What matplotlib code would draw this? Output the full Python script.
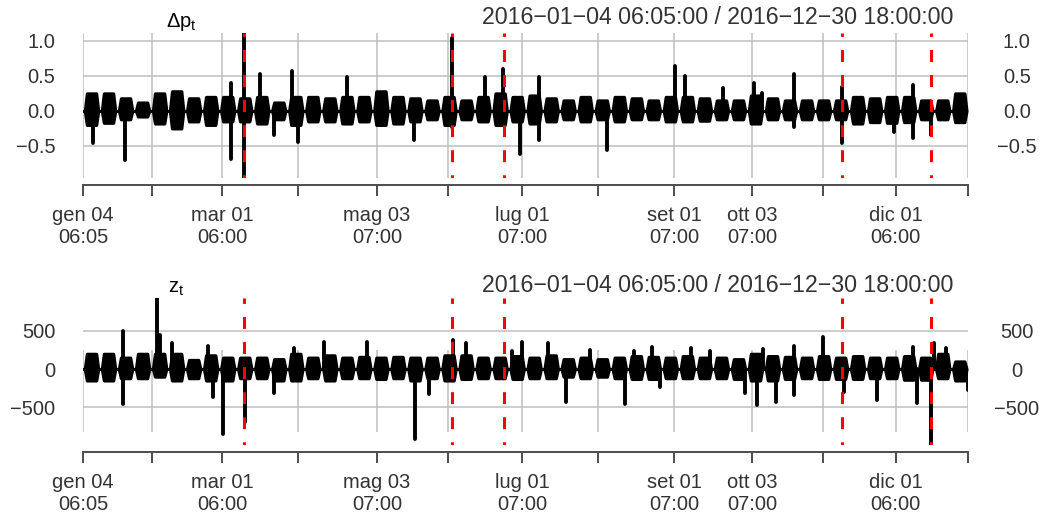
import numpy as np
import matplotlib.pyplot as plt

plt.rcParams['font.family'] = ['Liberation Sans', 'DejaVu Sans']
plt.rcParams['mathtext.fontset'] = 'custom'
plt.rcParams['mathtext.rm'] = 'Liberation Sans'
plt.rcParams['mathtext.it'] = 'Liberation Sans:italic'

# x axis is the observation index (trading days), like xts does
n_days = 256
tick_days = [0, 20, 40.3, 62.3, 85, 105.5, 127, 149, 171, 193.4, 214, 235, 256]
tick_labels = ['gen 04\n06:05', '', 'mar 01\n06:00', '', 'mag 03\n07:00', '',
               'lug 01\n07:00', '', 'set 01\n07:00', 'ott 03\n07:00', '',
               'dic 01\n06:00', '']
event_days = [46.7, 106.8, 121.8, 219.6, 245.2]
period = '2016\u221201\u221204 06:05:00 / 2016\u221212\u221230 18:00:00'

# weekly envelope of the price changes
dp_week_hi = [0.25, 0.25, 0.18, 0.12, 0.25, 0.28, 0.18, 0.20, 0.20, 0.18, 0.20, 0.12, 0.20,
              0.20, 0.18, 0.20, 0.20, 0.28, 0.20, 0.18, 0.15, 0.20, 0.15, 0.20, 0.25, 0.20,
              0.22, 0.18, 0.15, 0.20, 0.15, 0.20, 0.18, 0.15, 0.20, 0.20, 0.18, 0.15, 0.15,
              0.22, 0.18, 0.15, 0.15, 0.15, 0.15, 0.20, 0.18, 0.20, 0.20, 0.15, 0.15, 0.25]
dp_week_lo = [-0.20, -0.17, -0.12, -0.08, -0.18, -0.25, -0.15, -0.20, -0.15, -0.15, -0.18, -0.12, -0.20,
              -0.15, -0.15, -0.18, -0.15, -0.20, -0.18, -0.15, -0.12, -0.20, -0.12, -0.15, -0.20, -0.15,
              -0.18, -0.15, -0.12, -0.15, -0.12, -0.15, -0.12, -0.12, -0.15, -0.15, -0.14, -0.12, -0.12,
              -0.18, -0.12, -0.12, -0.12, -0.12, -0.12, -0.18, -0.16, -0.17, -0.16, -0.12, -0.12, -0.16]
# isolated jumps
dp_spike_day = [2.9, 12.1, 42.7, 46.6, 51.2, 55.3, 60.5, 62.2, 76.4, 95.7, 106.7, 116.3, 121.5,
                126.4, 131.9, 151.6, 171.3, 174.2, 185.2, 194.1, 196.4, 205.7, 219.6, 234.6, 240.1, 245.3]
dp_spike_hi = [0, 0, 0.40, 1.11, 0.52, 0, 0.57, 0, 0.48, 0, 1.04, 0.48, 0.60,
               0, 0.48, 0, 0.64, 0.50, 0.32, 0.40, 0.25, 0.52, 0.34, 0, 0.37, 0]
dp_spike_lo = [-0.46, -0.70, -0.68, -0.956, 0, -0.35, 0, -0.45, 0, -0.42, -0.23, 0, 0,
               -0.61, -0.42, -0.56, 0, 0, 0, 0, 0, -0.23, -0.46, -0.30, -0.39, -0.34]

# weekly envelope of z
z_week_hi = [200, 200, 150, 200, 200, 200, 120, 180, 150, 150, 150, 130, 200,
             150, 180, 150, 160, 150, 160, 150, 150, 180, 180, 150, 150, 170,
             150, 180, 130, 150, 130, 150, 170, 160, 150, 170, 150, 150, 130,
             200, 170, 160, 150, 170, 150, 170, 150, 150, 170, 150, 200, 100]
z_week_lo = [-150, -150, -120, -120, -100, -150, -120, -150, -150, -120, -120, -150, -150,
             -120, -150, -120, -120, -130, -120, -150, -120, -150, -130, -120, -120, -130,
             -120, -120, -100, -120, -100, -120, -130, -130, -120, -120, -120, -120, -130,
             -150, -150, -130, -120, -130, -130, -130, -120, -120, -140, -140, -120, -150]
z_spike_day = [11.6, 21.4, 22.3, 25.7, 36.2, 37.6, 40.4, 46.9, 55.3, 61.0, 69.7, 82.2, 96.0, 100.1,
               106.9, 110.7, 124.0, 126.9, 134.5, 139.7, 146.6, 156.8, 159.4, 164.5, 166.9, 175.8,
               181.4, 191.5, 195.0, 196.6, 200.5, 205.7, 214.1, 220.1, 229.7, 240.1, 241.2, 245.3,
               246.2, 249.6, 255.8]
z_spike_hi = [491, 929, 448, 343, 303, 0, 0, 0, 0, 280, 350, 360, 0, 0,
              382, 347, 242, 360, 347, 0, 252, 0, 238, 282, 0, 274,
              242, 0, 0, 260, 0, 295, 418, 0, 0, 290, 0, 0,
              347, 280, 0]
z_spike_lo = [-456, 0, 0, 0, 0, -360, -850, -690, -310, 0, 0, 0, -918, -325,
              0, 0, 0, 0, 0, -426, 0, -456, 0, 0, -230, 0,
              0, -316, -470, 0, -426, -338, 0, -295, -404, 0, -443, -993,
              0, 0, -272]

TXT = '#333333'
GRID = '#BEBEBE'
AX = '#4D4D4D'


def draw_panel(ax, week_hi, week_lo, sp_day, sp_hi, sp_lo, yticks, vgrid=None):
    ymin = min(min(week_lo), min(sp_lo))
    ymax = max(max(week_hi), max(sp_hi))
    ax.set_xlim(0, n_days)
    ax.set_ylim(ymin, ymax)

    # grid
    ax.hlines(yticks, 0, n_days, color=GRID, lw=1.1, zorder=1)
    g0, g1 = vgrid if vgrid else (ymin, ymax)
    ax.vlines(tick_days, g0, g1, color=GRID, lw=1.1, zorder=1)

    # series
    ax.plot([0, n_days], [0, 0], color='black', lw=2.2, zorder=2)
    edges = np.linspace(0, n_days, len(week_hi) + 1)
    for s, e, hi, lo in zip(edges[:-1], edges[1:], week_hi, week_lo):
        xs = [s + 0.5, s + 1.1, e - 1.1, e - 0.5]
        ax.fill_between(xs, [0, hi, hi, 0], [0, lo, lo, 0], facecolor='black',
                        edgecolor='black', lw=2.2, joinstyle='round', zorder=2)
    ax.vlines(sp_day, sp_lo, sp_hi, color='black', lw=2.8, capstyle='round', zorder=2)

    for d in event_days:
        ax.axvline(d, color='red', lw=2.2, ls=(2.85, (3.9, 4.3)), zorder=3)

    for s in ['top', 'left', 'right']:
        ax.spines[s].set_visible(False)
    ax.spines['bottom'].set_position(('outward', 5))
    ax.spines['bottom'].set_color(AX)
    ax.spines['bottom'].set_linewidth(1.4)
    ax.set_xticks(tick_days)
    ax.set_xticklabels(tick_labels, linespacing=1.15)
    ax.tick_params(axis='x', length=7.9, width=1.4, color=AX, labelcolor=TXT,
                   labelsize=14.5, pad=7.5)

    ax.set_yticks(yticks)
    ax.tick_params(axis='y', length=0, labelcolor=TXT, labelsize=14.5, pad=20)

    ax2 = ax.twinx()
    ax2.set_ylim(ymin, ymax)
    ax2.set_yticks(yticks)
    ax2.tick_params(axis='y', length=0, labelcolor=TXT, labelsize=14.5, pad=35)
    for t in ax2.yaxis.get_majorticklabels():
        t.set_horizontalalignment('center')
    for s in ax2.spines.values():
        s.set_visible(False)


fig = plt.figure(figsize=(10.45, 5.18), dpi=100)
ax_top = fig.add_axes([83 / 1045, 1 - 178 / 518, 885.3 / 1045, 145 / 518])
ax_bot = fig.add_axes([83 / 1045, 1 - 445 / 518, 885.3 / 1045, 147 / 518])

draw_panel(ax_top, dp_week_hi, dp_week_lo, dp_spike_day, dp_spike_hi, dp_spike_lo,
           [1.0, 0.5, 0.0, -0.5])
draw_panel(ax_bot, z_week_hi, z_week_lo, z_spike_day, z_spike_hi, z_spike_lo,
           [500, 0, -500], vgrid=(-823, 252))

fig.text(953 / 1045, 1 - 18 / 518, period, ha='right', va='center', fontsize=16.7, color=TXT)
fig.text(953 / 1045, 1 - 285 / 518, period, ha='right', va='center', fontsize=16.7, color=TXT)
fig.text(181 / 1045, 1 - 22 / 518, r'$\Delta\mathrm{p}_{\mathrm{t}}$', ha='center', va='center',
         fontsize=14.5, color='black')
fig.text(176 / 1045, 1 - 289 / 518, r'$\mathrm{z}_{\mathrm{t}}$', ha='center', va='center',
         fontsize=14.5, color='black')

fig.savefig('out.png', dpi=100)
